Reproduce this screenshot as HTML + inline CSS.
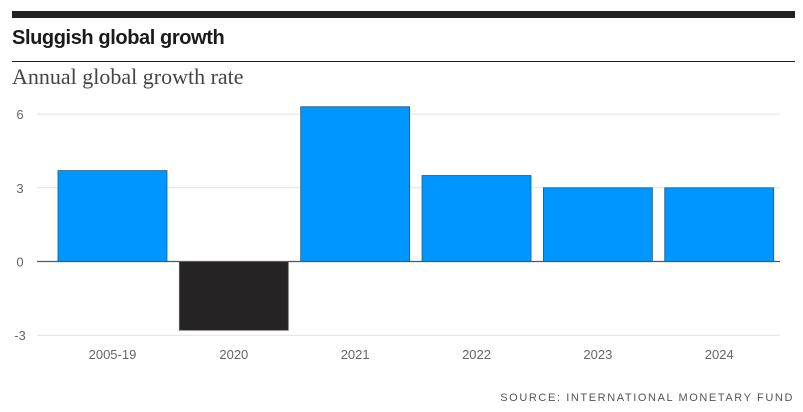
<!DOCTYPE html>
<html><head><meta charset="utf-8"><style>
body{margin:0;background:#fff;width:803px;height:412px;overflow:hidden}
svg{display:block}
</style></head><body>
<svg id="chart" width="803" height="412" xmlns="http://www.w3.org/2000/svg">
<rect x="12" y="11" width="783" height="7" fill="#222"/>
<text x="12" y="44" font-family="Liberation Sans, sans-serif" font-weight="bold" font-size="20" fill="#1a1a1a" letter-spacing="-0.4">Sluggish global growth</text>
<line x1="12" x2="795" y1="61.5" y2="61.5" stroke="#222" stroke-width="1"/>
<text x="12" y="84" font-family="Liberation Serif, serif" font-size="22" fill="#444">Annual global growth rate</text>
<g id="grid"></g><g id="bars"></g><g id="xlabels"></g>
<text x="794" y="401" text-anchor="end" font-family="Liberation Sans, sans-serif" font-size="11" fill="#555" letter-spacing="1.6">SOURCE: INTERNATIONAL MONETARY FUND</text>
</svg>
<script>
const categories=["2005-19","2020","2021","2022","2023","2024"];
const values=[3.7,-2.8,6.3,3.5,3.0,3.0];
const ticks=[6,3,0,-3];
const NS="http://www.w3.org/2000/svg";
const y=v=>261.5-v*(73.7/3);
const left=51.8,step=121.35,bw=109;
const x=i=>left+i*step+(step-bw)/2;
function mk(t,a,p){const e=document.createElementNS(NS,t);for(const k in a)e.setAttribute(k,a[k]);p.appendChild(e);return e;}
const g=document.getElementById('grid');
ticks.forEach(t=>{
 const l=mk('line',{x1:37,x2:780,y1:y(t),y2:y(t),stroke:t===0?'#555':'#e2e2e2','stroke-width':t===0?1.2:1},g);
 
 
 const tx=mk('text',{x:20,y:y(t)+5,'text-anchor':'middle','font-family':'Liberation Sans, sans-serif','font-size':13,fill:'#666'},g);
 tx.textContent=t;
 
 
});
const b=document.getElementById('bars'),xl=document.getElementById('xlabels');
values.forEach((v,i)=>{
 const top=Math.min(y(v),y(0)),h=Math.abs(y(v)-y(0));
 const r=mk('rect',{x:x(i),y:top,width:bw,height:h,fill:v<0?'#262324':'#0096ff',stroke:v<0?'#666':'#1a5a8a','stroke-width':0.8},b);
 
 
 const tx=mk('text',{x:x(i)+bw/2,y:359,'text-anchor':'middle','font-family':'Liberation Sans, sans-serif','font-size':13,fill:'#666'},xl);
 tx.textContent=categories[i];
 
 
});
</script>
</body></html>
